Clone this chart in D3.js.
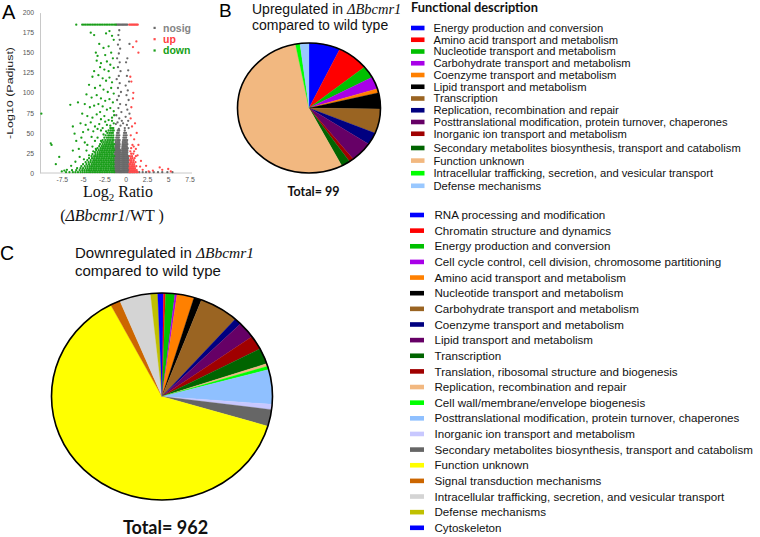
<!DOCTYPE html>
<html><head><meta charset="utf-8">
<script src="https://cdn.jsdelivr.net/npm/d3@7"></script>
<style>body{margin:0;background:#fff}svg{display:block}</style>
</head><body>
<svg id="c" width="760" height="537"></svg>
<script>
// ---------- Panel A data (volcano) ----------
const volcanoXTicks = [-7.5, -5, -2.5, 0, 2.5, 5, 7.5];
const volcanoYTicks = [0, 25, 50, 75, 100, 125, 150, 175, 200];
const volcanoGroups = ["nosig", "up", "down"];
const volcanoColors = ["#6a6a6a", "#ff4a4a", "#1a9e1a"];
const volcanoLegendColors = ["#858585", "#ff4040", "#16a016"];

// capped points (drawn on the top row)
const downCap = [-5.8,-5.1,-4.9,-4.7,-4.5,-4.3,-4.1,-3.9,-3.7,-3.5,-3.3,-3.1,-2.9,-2.7,-2.5,-2.3,-2.1,-1.9,-1.7,-1.5,-1.3,-1.15];
const nosigCap = [-1.05,-0.92,-0.8,-0.68,-0.55,-0.42,-0.3,-0.18,-0.05,0.08,0.2];
const upCap = [0.42,0.55,0.68,0.8,0.93,1.05,1.18,1.3,1.42];
const capValue = 185;

const downSparse = [[-4.1,175],[-3.7,172],[-2.3,174],[-1.9,177],[-1.6,171],[-1.4,166],
[-3.1,161],[-2.6,156],[-2.0,158],[-1.7,150],[-3.5,150],[-3.3,146],[-2.4,147],[-1.5,143],
[-3.4,140],[-2.9,137],[-2.2,139],[-1.8,135],[-3.0,132],[-2.5,129],[-2.0,127],[-1.4,131],
[-3.7,127],[-3.9,120],[-3.2,122],[-2.7,118],[-2.3,115],[-1.9,119],[-1.6,113],
[-4.3,110],[-3.6,106],[-3.0,109],[-2.6,104],[-2.1,101],[-1.7,106],[-1.4,99],
[-4.6,98],[-4.0,94],[-3.4,97],[-2.9,93],[-2.4,90],[-1.9,92],[-1.5,88],[-3.2,86],
[-4.8,86],[-4.2,82],[-3.7,84],[-2.7,83],[-2.2,79],[-1.8,81],[-1.4,77],[-3.0,76],
[-5.1,74],[-4.5,71],[-3.9,69],[-3.4,73],[-2.9,67],[-2.5,71],[-2.0,66],[-1.6,69],[-1.35,72],
[-5.3,62],[-4.7,60],[-4.1,63],[-3.6,58],[-3.1,61],[-2.7,56],[-2.2,60],[-1.8,59],[-1.4,62],[-2.4,64],[-3.3,55],
[-4.4,54],[-3.8,52],[-2.9,53],[-2.3,52],[-1.6,65],[-5.0,51],[-2.6,48],[-3.3,44],[-2.9,40],
[-9.9,74],[-6.5,85],[-5.6,88],[-6.2,58],[-6.0,49],[-8.8,37],[-8.7,35],[-7.8,20],[-8.2,11],[-6.4,9],
[-6.2,28],[-5.8,40],[-5.5,30],[-5.2,44],[-4.8,38],[-4.6,28],[-4.3,22],[-4.9,17],[-3.9,33],[-4.0,45],
[-3.6,40],[-3.5,30],[-6.9,4],[-7.2,3],[-7.5,2],[-5.4,20],[-5.9,14],[-4.5,35],[-3.8,27]];

const downDenseRows = [
[1,[-7.0,-6.6,-6.2,-5.9,-5.6,-5.3,-5.05,-4.8,-4.55,-4.3,-4.1,-3.9,-3.7,-3.5,-3.3,-3.1,-2.9,-2.7,-2.5,-2.3,-2.1,-1.9,-1.7,-1.5,-1.35]],
[3.5,[-6.3,-5.8,-5.4,-5.1,-4.85,-4.6,-4.4,-4.2,-4.0,-3.8,-3.6,-3.4,-3.2,-3.0,-2.8,-2.6,-2.4,-2.2,-2.0,-1.8,-1.6,-1.4]],
[6,[-5.7,-5.3,-5.0,-4.7,-4.45,-4.2,-4.0,-3.8,-3.6,-3.4,-3.2,-3.0,-2.8,-2.6,-2.4,-2.2,-2.0,-1.8,-1.6,-1.4]],
[8.5,[-5.2,-4.8,-4.5,-4.25,-4.05,-3.85,-3.65,-3.45,-3.25,-3.05,-2.85,-2.65,-2.45,-2.25,-2.05,-1.85,-1.65,-1.45]],
[11,[-5.0,-4.6,-4.3,-4.0,-3.8,-3.6,-3.4,-3.2,-3.0,-2.8,-2.6,-2.4,-2.2,-2.0,-1.8,-1.6,-1.4]],
[13.5,[-4.7,-4.35,-4.1,-3.85,-3.65,-3.45,-3.25,-3.05,-2.85,-2.65,-2.45,-2.25,-2.05,-1.85,-1.65,-1.45]],
[16,[-4.5,-4.1,-3.8,-3.6,-3.4,-3.2,-3.0,-2.8,-2.6,-2.4,-2.2,-2.0,-1.8,-1.6,-1.4]],
[18.5,[-4.3,-3.95,-3.7,-3.45,-3.25,-3.05,-2.85,-2.65,-2.45,-2.25,-2.05,-1.85,-1.65,-1.45]],
[21,[-4.0,-3.7,-3.5,-3.3,-3.1,-2.9,-2.7,-2.5,-2.3,-2.1,-1.9,-1.7,-1.5,-1.35]],
[23.5,[-3.9,-3.55,-3.3,-3.1,-2.9,-2.7,-2.5,-2.3,-2.1,-1.9,-1.7,-1.5]],
[26,[-3.6,-3.3,-3.05,-2.85,-2.65,-2.45,-2.25,-2.05,-1.85,-1.65,-1.45]],
[28.5,[-3.45,-3.15,-2.9,-2.7,-2.5,-2.3,-2.1,-1.9,-1.7,-1.5,-1.35]],
[31,[-3.3,-2.95,-2.75,-2.55,-2.35,-2.15,-1.95,-1.75,-1.55,-1.4]],
[33.5,[-3.1,-2.8,-2.6,-2.4,-2.2,-2.0,-1.8,-1.6,-1.45]],
[36,[-3.0,-2.7,-2.45,-2.25,-2.05,-1.85,-1.65,-1.5,-1.35]],
[38.5,[-2.8,-2.55,-2.3,-2.1,-1.9,-1.7,-1.5]],
[41,[-2.7,-2.4,-2.15,-1.95,-1.75,-1.55,-1.4]],
[44,[-2.5,-2.2,-2.0,-1.8,-1.6,-1.45]],
[47,[-2.35,-2.05,-1.85,-1.65,-1.45]],
[50,[-2.15,-1.9,-1.7,-1.5]],
[53,[-2.0,-1.75,-1.55,-1.4]],
[56,[-1.8,-1.6,-1.45]]];

const nosigSparse = [[-0.75,178],[-0.85,172],[-0.7,166],[-0.9,160],[-0.65,155],[-0.8,149],[-1.0,143],[-0.7,138],
[-0.9,132],[-0.6,127],[-0.8,121],[-1.05,117],[-0.7,112],[-0.9,106],[-0.55,101],[-0.8,96],[-1.0,91],[-0.65,86],
[-0.85,81],[-0.5,76],[-1.1,72],[-0.75,68],[-0.95,63],[-0.6,59],[-0.8,55],[-1.15,61],[-0.45,65],
[0.45,161],[0.2,143],[0.05,138],[0.3,128],[0.15,121],[0.4,114],[0.0,109],[0.25,103],[0.1,97],[0.35,91],
[0.05,85],[0.2,79],[0.45,74],[0.0,70],[0.3,65],[0.15,60],[-0.1,56],[0.35,56],[-0.3,62]];

const nosigDenseRows = [
[1,[-1.25,-1.12,-1.0,-0.88,-0.76,-0.65,-0.55,-0.45,-0.32,-0.2,-0.08,0.05,0.18,0.3,0.45,0.6,0.8,1.0,1.3,1.6,2.0,2.4,2.8,3.3,3.8,4.3,4.9,5.5]],
[3.5,[-1.25,-1.12,-1.0,-0.88,-0.76,-0.65,-0.45,-0.32,-0.2,-0.08,0.05,0.18,0.3,0.42]],
[6,[-1.25,-1.12,-1.0,-0.88,-0.76,-0.65,-0.45,-0.32,-0.2,-0.08,0.05,0.18,0.3]],
[8.5,[-1.25,-1.12,-1.0,-0.88,-0.76,-0.65,-0.45,-0.32,-0.2,-0.08,0.05,0.18,0.3]],
[11,[-1.25,-1.12,-1.0,-0.88,-0.76,-0.65,-0.45,-0.32,-0.2,-0.08,0.05,0.18,0.3]],
[13.5,[-1.25,-1.12,-1.0,-0.88,-0.76,-0.65,-0.45,-0.32,-0.2,-0.08,0.05,0.18,0.3]],
[16,[-1.25,-1.12,-1.0,-0.88,-0.76,-0.65,-0.45,-0.32,-0.2,-0.08,0.05,0.18,0.3]],
[18.5,[-1.25,-1.12,-1.0,-0.88,-0.76,-0.65,-0.45,-0.32,-0.2,-0.08,0.05,0.18,0.3]],
[21,[-1.25,-1.12,-1.0,-0.88,-0.76,-0.65,-0.45,-0.32,-0.2,-0.08,0.05,0.18,0.3]],
[23.5,[-1.25,-1.12,-1.0,-0.88,-0.76,-0.65,-0.45,-0.32,-0.2,-0.08,0.05,0.18]],
[26,[-1.25,-1.12,-1.0,-0.88,-0.76,-0.65,-0.42,-0.3,-0.18,-0.05,0.08,0.2]],
[28.5,[-1.22,-1.1,-0.98,-0.86,-0.74,-0.64,-0.42,-0.3,-0.18,-0.05,0.08,0.2]],
[31,[-1.22,-1.1,-0.98,-0.86,-0.74,-0.4,-0.28,-0.15,-0.02,0.12,0.25]],
[33.5,[-1.2,-1.08,-0.96,-0.84,-0.72,-0.38,-0.25,-0.12,0.0,0.14]],
[36,[-1.2,-1.06,-0.94,-0.82,-0.7,-0.36,-0.22,-0.08,0.06,0.2]],
[38.5,[-1.18,-1.02,-0.88,-0.74,-0.34,-0.18,-0.02,0.14]],
[41,[-1.15,-0.98,-0.84,-0.7,-0.3,-0.14,0.02,0.18]],
[44,[-1.1,-0.94,-0.8,-0.26,-0.1,0.06]],
[47,[-1.05,-0.9,-0.74,-0.22,-0.05,0.12]],
[50,[-1.0,-0.82,-0.18,0.04]],
[53,[-0.92,-0.76,-0.1]]];

const upSparse = [[1.26,164],[0.86,157],[1.5,150],[0.55,120],[0.67,114],[0.9,100],[0.86,93],[0.67,82],[0.59,68],
[1.1,62],[0.75,58],[1.3,50],[0.6,47],[1.0,42],[1.5,35],[0.8,35],[1.2,30],[0.65,31],[0.95,33],[1.4,22],[1.8,15],
[2.4,9],[4.0,7],[4.3,4],[5.0,5],[5.3,2],[2.0,4],[3.2,3],[1.7,8],[2.7,2]];
const upDenseRows = [
[1,[0.45,0.6,0.75,0.9,1.05,1.2,1.4]],
[3.5,[0.5,0.65,0.8,0.95,1.1,1.3]],
[6,[0.45,0.6,0.75,0.9,1.1]],
[8.5,[0.5,0.7,0.85,1.0,1.25]],
[11,[0.45,0.6,0.8,1.0]],
[13.5,[0.55,0.7,0.9,1.15]],
[16,[0.5,0.7,0.95]],
[18.5,[0.6,0.8,1.05]],
[21,[0.5,0.75,1.2]],
[24,[0.65,0.9]],
[27,[0.55,1.0]]];

// ---------- Panel B data ----------
const upCategories = ["Energy production and conversion","Amino acid transport and metabolism","Nucleotide transport and metabolism","Carbohydrate transport and metabolism","Coenzyme transport and metabolism","Lipid transport and metabolism","Transcription","Replication, recombination and repair","Posttranslational modification, protein turnover, chaperones","Inorganic ion transport and metabolism","Secondary metabolites biosynthesis, transport and catabolism","Function unknown","Intracellular trafficking, secretion, and vesicular transport","Defense mechanisms"];
const upCounts = [7,7,3,3,1,4,6,3,5,1,2,54,1,2];
const upColors = ["#0000ff","#ff0000","#00c000","#a800e8","#ff8000","#000000","#9a6422","#000080","#660066","#a00000","#006400","#f2b880","#00ff00","#99c8ff"];

// ---------- Panel C data ----------
const downCategories = ["RNA processing and modification","Chromatin structure and dynamics","Energy production and conversion","Cell cycle control, cell division, chromosome partitioning","Amino acid transport and metabolism","Nucleotide transport and metabolism","Carbohydrate transport and metabolism","Coenzyme transport and metabolism","Lipid transport and metabolism","Transcription","Translation, ribosomal structure and biogenesis","Replication, recombination and repair","Cell wall/membrane/envelope biogenesis","Posttranslational modification, protein turnover, chaperones","Inorganic ion transport and metabolism","Secondary metabolites biosynthesis, transport and catabolism","Function unknown","Signal transduction mechanisms","Intracellular trafficking, secretion, and vesicular transport","Defense mechanisms","Cytoskeleton"];
const downCounts = [2,3,13,3,24,11,55,10,25,24,21,4,5,52,8,25,603,14,44,10,6];
const downColors = ["#0000ff","#ff0000","#00c000","#a800e8","#ff8000","#000000","#9a6422","#000080","#660066","#006400","#a00000","#f2b880","#00ff00","#8fc0ff","#c8c8ff","#666666","#ffff00","#cc6600","#d4d4d4","#c0c000","#0000ff"];
const downPieOrder = [0,1,2,3,4,5,6,7,8,10,9,11,12,13,14,15,16,17,18,19,20];

// ---------- drawing ----------
const svg = d3.select("#c");
const SANS = "'Liberation Sans', Arial, sans-serif";
const SERIF = "'Liberation Serif', 'Times New Roman', serif";
const BOLD = "Lato, 'Open Sans', sans-serif";

function flatRows(rows){ return rows.flatMap(([yy, xs]) => xs.map(xx => [xx, yy])); }

// Panel A
const xS = d3.scaleLinear().domain([-10, 7.5]).range([40.5, 189.5]);
const yS = d3.scaleLinear().domain([0, 200]).range([173, 12.6]);
const gA = svg.append("g");

const yAx = gA.append("g").attr("transform", "translate(40,0)")
  .call(d3.axisLeft(yS).tickValues(volcanoYTicks).tickSize(0).tickPadding(6));
const xAx = gA.append("g").attr("transform", "translate(0,173)")
  .call(d3.axisBottom(xS).tickValues(volcanoXTicks).tickSize(0).tickPadding(4)
  .tickFormat(d => d3.format("")(d).replace("−","-")));
[yAx, xAx].forEach(a => {
  a.select(".domain").attr("stroke", "#c8c8c8").attr("stroke-width", 1);
  a.selectAll("text").attr("font-family", SANS).attr("font-size", 6.8).attr("fill", "#555");
});
xAx.select(".domain").attr("d", "M40.5,0H192");

const groupsPts = [
  nosigSparse.concat(flatRows(nosigDenseRows), nosigCap.map(v => [v, capValue])),
  upSparse.concat(flatRows(upDenseRows), upCap.map(v => [v, capValue])),
  downSparse.concat(flatRows(downDenseRows), downCap.map(v => [v, capValue]))
];
groupsPts.forEach((pts, gi) => {
  gA.append("g").selectAll("circle").data(pts).join("circle")
    .attr("cx", d => xS(d[0])).attr("cy", d => yS(d[1])).attr("r", 1.15)
    .attr("fill", volcanoColors[gi]);
});

// legend A
volcanoGroups.forEach((g, i) => {
  const yy = 28 + i * 11.3;
  gA.append("rect").attr("x", 153.5).attr("y", yy - 1.2).attr("width", 2.2).attr("height", 2.2)
    .attr("fill", volcanoColors[i]);
  gA.append("text").attr("x", 163).attr("y", yy + 3.6).text(g)
    .attr("font-family", SANS).attr("font-weight", "bold").attr("font-size", 10.5)
    .attr("fill", volcanoLegendColors[i]);
});

// axis titles
gA.append("text").attr("transform", "translate(13,93) rotate(-90)").attr("text-anchor", "middle")
  .attr("font-family", SANS).attr("font-size", 8.5).attr("fill", "#222")
  .attr("textLength", 92).attr("lengthAdjust", "spacingAndGlyphs").text("-Log10 (Padjust)");
const xt1 = gA.append("text").attr("x", 118).attr("y", 197).attr("text-anchor", "middle")
  .attr("font-family", SERIF).attr("font-size", 16).attr("fill", "#111");
xt1.append("tspan").text("Log");
xt1.append("tspan").attr("font-size", 11).attr("dy", 4).text("2");
xt1.append("tspan").attr("dy", -4).text(" Ratio");
const xt2 = gA.append("text").attr("x", 112).attr("y", 221).attr("text-anchor", "middle")
  .attr("font-family", SERIF).attr("font-size", 16).attr("fill", "#111");
xt2.append("tspan").text("(");
xt2.append("tspan").attr("font-style", "italic").text("ΔBbcmr1");
xt2.append("tspan").text("/WT )");

// panel letters
[["A", 2, 18.5, 20], ["B", 219, 16.8, 19], ["C", 0, 260, 19.5]].forEach(([t, xx, yy, fs]) => {
  svg.append("text").attr("x", xx).attr("y", yy).text(t)
    .attr("font-family", SANS).attr("font-size", fs).attr("fill", "#000");
});

// titles
function title(xx, y1, y2, word, fs, fsItalic){
  const t = svg.append("text").attr("x", xx).attr("y", y1)
    .attr("font-family", SANS).attr("font-size", fs).attr("fill", "#111");
  t.append("tspan").text(word + " in ");
  t.append("tspan").attr("font-family", SERIF).attr("font-style", "italic")
    .attr("font-size", fsItalic).text("ΔBbcmr1");
  svg.append("text").attr("x", xx).attr("y", y2).attr("font-family", SANS)
    .attr("font-size", fs).attr("fill", "#111").text("compared to wild type");
}
title(252, 14, 30, "Upregulated", 14, 14.5);
title(75, 257.5, 275.5, "Downregulated", 15, 15.5);

// pies
function drawPie(cx, cy, rx, ry, counts, colors, order){
  const items = order.map(i => ({count: counts[i], color: colors[i]}));
  const arcs = d3.pie().sort(null).value(d => d.count)(items);
  const arc = d3.arc().innerRadius(0).outerRadius(rx);
  const g = svg.append("g").attr("transform", `translate(${cx},${cy}) scale(1,${ry/rx})`);
  g.selectAll("path").data(arcs).join("path").attr("d", arc)
    .attr("fill", d => d.data.color).attr("stroke", d => d.data.color).attr("stroke-width", 0.3);
  svg.append("ellipse").attr("cx", cx).attr("cy", cy).attr("rx", rx).attr("ry", ry)
    .attr("fill", "none").attr("stroke", "#000").attr("stroke-width", 1.6);
  return d3.sum(counts);
}
const totB = drawPie(309, 108, 71.5, 65, upCounts, upColors, upCounts.map((d, i) => i));
const totC = drawPie(162, 396.5, 110.5, 103.5, downCounts, downColors, downPieOrder);

svg.append("text").attr("x", 313.5).attr("y", 196).attr("text-anchor", "middle")
  .attr("font-family", BOLD).attr("font-weight", "bold").attr("font-size", 12.5).attr("fill", "#111")
  .text("Total= " + totB);
svg.append("text").attr("x", 165.5).attr("y", 534).attr("text-anchor", "middle")
  .attr("font-family", BOLD).attr("font-weight", "bold").attr("font-size", 18).attr("fill", "#111")
  .text("Total= " + totC);

// legends
svg.append("text").attr("x", 411).attr("y", 12).attr("font-family", BOLD).attr("font-weight", "bold")
  .attr("font-size", 12.8).attr("fill", "#111").text("Functional description");

upCategories.forEach((c, i) => {
  const yy = i < 10 ? 28 + i * 11.75 : 148 + (i - 10) * 12.6;
  svg.append("rect").attr("x", 411).attr("y", yy - 2.3).attr("width", 13.5).attr("height", 4.6).attr("fill", upColors[i]);
  svg.append("text").attr("x", 433.5).attr("y", yy + 3.9).attr("font-family", SANS).attr("font-size", 11.2)
    .attr("fill", "#111").text(c);
});
downCategories.forEach((c, i) => {
  const yy = 215 + i * 15.64;
  svg.append("rect").attr("x", 410).attr("y", yy - 2.3).attr("width", 14).attr("height", 4.6).attr("fill", downColors[i]);
  svg.append("text").attr("x", 434.5).attr("y", yy + 4.1).attr("font-family", SANS).attr("font-size", 11.6)
    .attr("fill", "#111").text(c);
});
</script>
</body></html>
